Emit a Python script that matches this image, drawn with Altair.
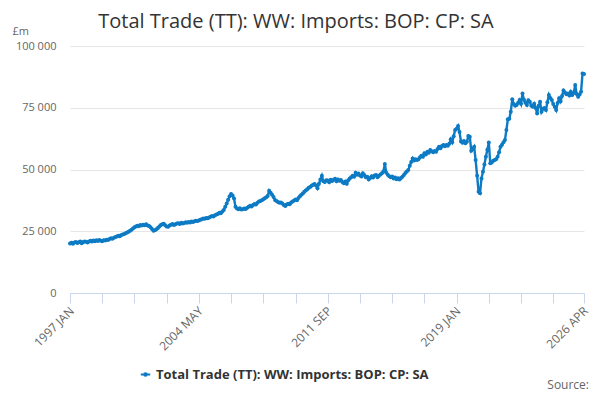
import altair as alt
import pandas as pd


SERIES = "Total Trade (TT): WW: Imports: BOP: CP: SA"
LINE_COLOR = "#0d7bc4"
MONTHS = ["JAN", "FEB", "MAR", "APR", "MAY", "JUN", "JUL", "AUG", "SEP", "OCT", "NOV", "DEC"]

# monthly values, £ thousand million (multiplied to £m below)
y1997 = [20.0, 20.3, 19.9, 20.4, 20.6, 20.2, 20.5, 20.8, 20.1, 20.6, 20.9, 20.7]
y1998 = [20.4, 20.9, 21.2, 20.8, 21.3, 21.0, 21.4, 21.1, 21.5, 21.2, 21.0, 21.4]
y1999 = [21.3, 21.6, 21.5, 21.9, 22.2, 22.0, 22.4, 22.7, 22.9, 23.2, 23.0, 23.5]
y2000 = [23.7, 23.9, 24.2, 24.5, 24.8, 25.2, 25.6, 26.1, 26.6, 26.9, 27.2, 27.0]
y2001 = [27.5, 27.3, 27.6, 27.4, 27.8, 27.3, 27.1, 26.6, 25.9, 25.2, 25.4, 25.8]
y2002 = [26.3, 26.9, 27.5, 27.8, 28.0, 27.4, 26.9, 26.8, 27.3, 27.6, 27.9, 27.5]
y2003 = [27.8, 28.1, 28.2, 27.9, 28.4, 28.1, 28.3, 28.6, 28.4, 28.7, 28.5, 28.9]
y2004 = [28.7, 29.0, 29.3, 29.1, 29.4, 29.7, 29.9, 30.2, 30.1, 30.4, 30.3, 30.6]
y2005 = [30.9, 31.2, 31.0, 31.5, 31.8, 32.0, 32.5, 32.3, 33.0, 33.6, 34.9, 36.2]
y2006 = [37.8, 39.2, 40.1, 39.5, 38.3, 34.9, 34.2, 33.9, 34.3, 33.8, 33.9, 34.2]
y2007 = [34.0, 34.5, 34.9, 35.3, 35.0, 35.6, 36.0, 35.8, 36.5, 37.0, 37.2, 37.6]
y2008 = [38.0, 38.4, 38.8, 39.3, 41.4, 40.6, 39.8, 38.9, 37.7, 37.2, 36.8, 36.5]
y2009 = [36.6, 36.2, 35.6, 35.2, 35.8, 36.1, 35.9, 36.6, 37.0, 37.4, 37.9, 37.6]
y2010 = [38.5, 39.2, 39.8, 40.3, 41.0, 41.5, 42.0, 42.6, 42.9, 43.4, 43.8, 44.1]
y2011 = [43.5, 42.4, 44.2, 46.0, 47.5, 45.2, 44.9, 45.6, 45.5, 44.8, 45.9, 45.3]
y2012 = [45.8, 46.3, 45.2, 46.0, 45.4, 45.7, 44.9, 44.4, 45.1, 44.2, 45.6, 46.4]
y2013 = [46.9, 47.5, 47.1, 48.7, 47.9, 48.4, 47.6, 47.2, 48.5, 47.8, 46.9, 47.1]
y2014 = [46.0, 46.6, 47.3, 46.8, 47.6, 47.8, 46.9, 47.5, 48.0, 48.5, 49.2, 52.2]
y2015 = [48.7, 47.9, 47.3, 46.9, 47.2, 46.4, 46.8, 46.1, 46.5, 46.0, 46.6, 47.1]
y2016 = [47.8, 48.6, 49.2, 49.8, 51.5, 53.0, 54.5, 53.6, 54.1, 53.8, 54.1, 55.0]
y2017 = [55.6, 55.2, 56.6, 56.1, 57.2, 56.8, 57.9, 57.4, 57.0, 57.5, 57.2, 58.3]
y2018 = [59.2, 58.6, 59.5, 59.9, 59.4, 59.9, 59.6, 60.4, 62.2, 61.0, 63.5, 66.0]
y2019 = [66.5, 67.6, 65.2, 61.3, 60.8, 61.5, 60.6, 61.2, 63.6, 63.3, 57.6, 58.3]
y2020 = [59.2, 53.8, 47.5, 41.0, 40.4, 46.4, 49.1, 52.0, 55.2, 58.0, 60.9, 52.5]
y2021 = [52.8, 53.5, 53.8, 54.2, 55.2, 57.0, 59.2, 60.0, 61.0, 61.9, 66.0, 70.3]
y2022 = [70.5, 73.4, 78.4, 76.5, 75.8, 76.1, 77.0, 78.1, 76.6, 80.8, 78.2, 77.0]
y2023 = [76.1, 78.0, 77.4, 75.8, 75.4, 76.6, 74.9, 72.7, 75.8, 77.4, 73.4, 74.6]
y2024 = [74.9, 74.1, 77.2, 80.2, 78.9, 78.1, 76.5, 75.4, 74.1, 76.9, 78.8, 77.6]
y2025 = [79.8, 82.0, 81.2, 80.5, 80.8, 80.0, 81.5, 80.2, 81.0, 84.2, 80.6, 79.5]
y2026 = [80.4, 81.5, 88.9, 88.7]

years = [
    y1997, y1998, y1999, y2000, y2001, y2002, y2003, y2004, y2005, y2006,
    y2007, y2008, y2009, y2010, y2011, y2012, y2013, y2014, y2015, y2016,
    y2017, y2018, y2019, y2020, y2021, y2022, y2023, y2024, y2025, y2026,
]

rows = []
for yi, vals in enumerate(years):
    for mi, v in enumerate(vals):
        rows.append({
            "idx": len(rows),
            "period": f"{1997 + yi} {MONTHS[mi]}",
            "value": round(v * 1000),
            "series": SERIES,
        })
df = pd.DataFrame(rows)

last = len(df) - 1
tick_idx = list(range(0, last, 22)) + [last]
label_idx = [0, 88, 176, 264, last]
label_map = {i: df.loc[i, "period"] for i in label_idx}
label_expr = " : ".join(f"datum.value == {i} ? '{s}'" for i, s in label_map.items()) + " : ''"

FONT = "Open Sans"
legend_symbol = "M-1,0L1,0M-0.28,0A0.28,0.28 0 1,0 0.28,0A0.28,0.28 0 1,0 -0.28,0Z"

line = (
    alt.Chart(df)
    .mark_line(point=alt.OverlayMarkDef(size=16, filled=True), strokeWidth=2.4)
    .encode(
        x=alt.X(
            "idx:Q",
            scale=alt.Scale(domain=[0, last], nice=False, zero=False),
            axis=alt.Axis(
                values=tick_idx,
                labelExpr=label_expr,
                labelAngle=-45,
                labelFontSize=12,
                labelColor="#666666",
                labelFont=FONT,
                labelOffset=-2,
                domainColor="#c9d7ea",
                tickColor="#c9d7ea",
                tickSize=10,
                grid=False,
                title=None,
            ),
        ),
        y=alt.Y(
            "value:Q",
            scale=alt.Scale(domain=[0, 100000]),
            axis=alt.Axis(
                values=[0, 25000, 50000, 75000, 100000],
                labelExpr="replace(format(datum.value, ','), ',', ' ')",
                labelFontSize=11,
                labelColor="#666666",
                labelFont=FONT,
                labelPadding=14,
                domain=False,
                ticks=False,
                gridColor="#e6e6e6",
                title="£m",
                titleAngle=0,
                titleAlign="left",
                titleBaseline="bottom",
                titleX=-58,
                titleY=-10,
                titleFont=FONT,
                titleFontSize=11,
                titleFontWeight="normal",
                titleColor="#666666",
            ),
        ),
        color=alt.Color(
            "series:N",
            scale=alt.Scale(domain=[SERIES], range=[LINE_COLOR]),
            legend=alt.Legend(
                title=None,
                orient="none",
                legendX=69,
                legendY=322,
                symbolType=legend_symbol,
                symbolSize=90,
                symbolStrokeWidth=2,
                labelFont=FONT,
                labelFontSize=13,
                labelFontWeight="bold",
                labelColor="#333333",
                labelLimit=500,
            ),
        ),
    )
)

source = (
    alt.Chart(pd.DataFrame({"t": ["Source:"]}))
    .mark_text(align="right", baseline="bottom", font=FONT, fontSize=12, color="#666666")
    .encode(text="t:N", x=alt.value(519), y=alt.value(346))
)

chart = (
    alt.layer(line, source)
    .properties(
        width=514,
        height=247,
        autosize=alt.AutoSizeParams(type="none"),
        padding={"left": 62, "top": 38, "right": 8, "bottom": 99},
        title=alt.TitleParams(
            SERIES,
            anchor="middle",
            frame="group",
            dx=-31,
            offset=-7,
            font=FONT,
            fontSize=20,
            fontWeight="normal",
            color="#333333",
        ),
    )
    .configure_view(stroke=None)
)

chart.save("out.html", embed_options={"renderer": "svg", "actions": False})
